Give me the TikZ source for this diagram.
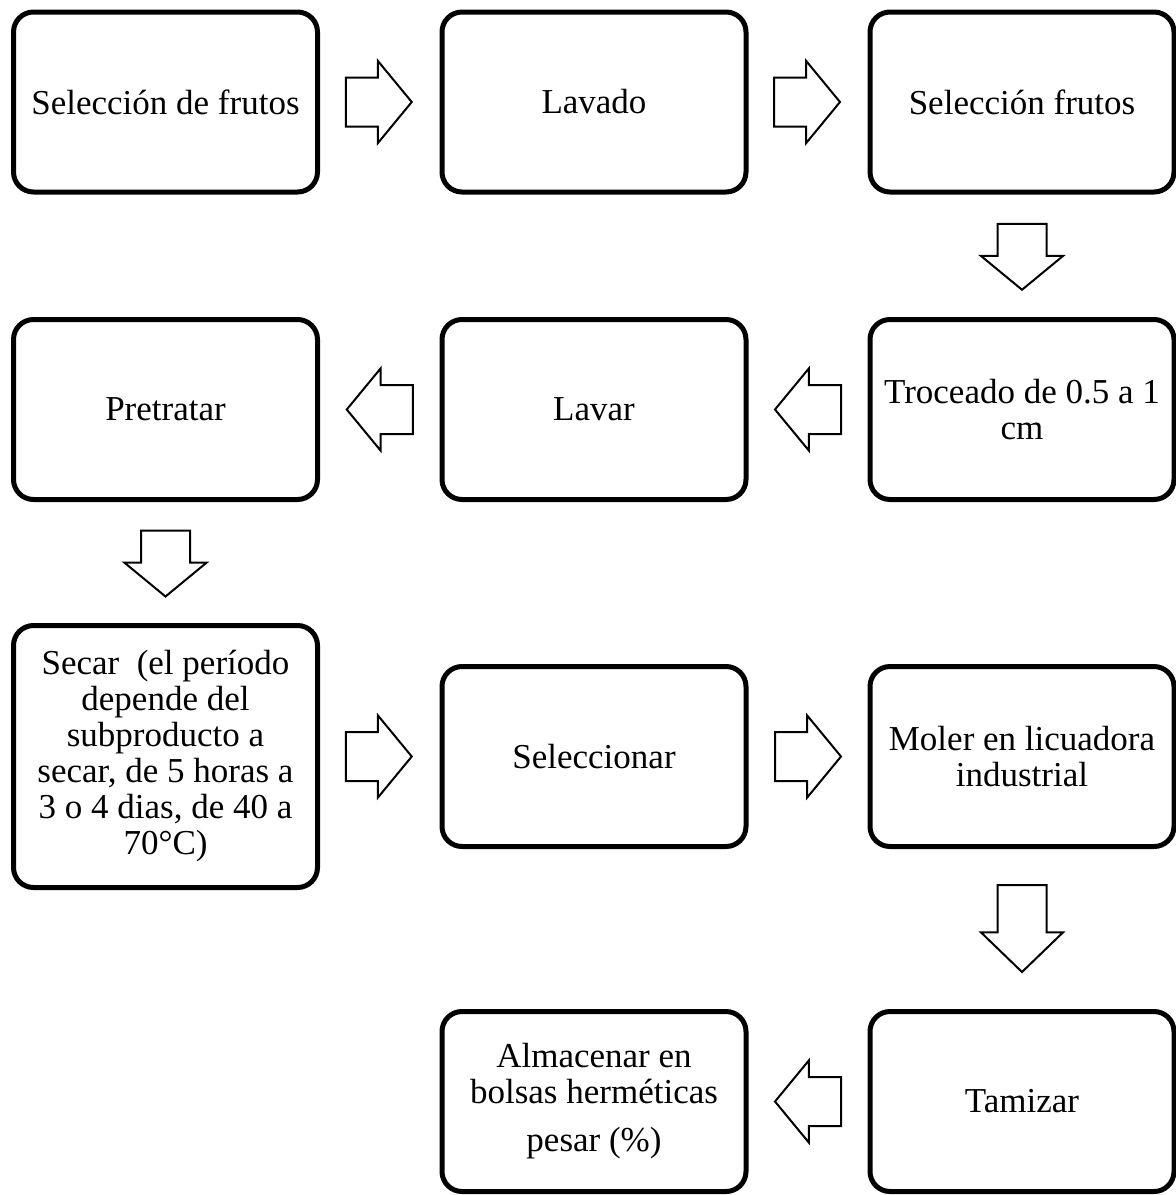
\documentclass[tikz,border=0pt]{standalone}
\usepackage{fontspec}
\setmainfont{Liberation Serif}
\usetikzlibrary{shapes.arrows, calc}
\tikzstyle{stepBox}=[draw=black, line width=2.5pt, rounded corners=10pt,
  minimum width=152pt, minimum height=90pt, align=center, inner sep=0pt,
  font=\fontsize{17.5}{18}\selectfont]
\tikzstyle{tallBox}=[stepBox, minimum height=131pt]
\tikzstyle{blockArrow}=[single arrow, draw=black, fill=white, line width=1pt,
  inner sep=0pt, text height=23.5pt, text depth=0pt, minimum height=33pt,
  minimum width=40pt, single arrow head extend=8.25pt, single arrow tip angle=101,
  anchor=tail]

\begin{document}
\begin{tikzpicture}[x=0.5pt, y=-0.5pt]
  \useasboundingbox (0,0) rectangle (1176,1195);

  % steps
  \node[stepBox] (selFrutos) at (165.5,102) {Selección de frutos};
  \node[stepBox] (lavado) at (594,102) {Lavado};
  \node[stepBox] (selFrutosB) at (1022,102) {Selección frutos};
  \node[stepBox] (troceado) at (1022,409.5) {Troceado de 0.5 a 1\\cm};
  \node[stepBox] (lavar) at (594,409.5) {Lavar};
  \node[stepBox] (pretratar) at (165.5,409.5) {Pretratar};
  \node[tallBox] (secar) at (165.5,756.5) {Secar\ \ (el período\\depende del\\subproducto a\\secar, de 5 horas a\\3 o 4 dias, de 40 a\\70°C)};
  \node[stepBox] (seleccionar) at (594,756.5) {Seleccionar};
  \node[stepBox] (moler) at (1022,756.5) {Moler en licuadora\\industrial};
  \node[stepBox] (tamizar) at (1022,1101.5) {Tamizar};
  \node[stepBox] (almacenar) at (594,1101.5) {Almacenar en\\bolsas herméticas\\[6pt]pesar (\%)};

  % arrows (tail half a length back from the gap's middle)
  \node[blockArrow] (arrA) at ($(selFrutos.east)!0.5!(lavado.west)!17.5pt!(selFrutos.east)$) {};
  \node[blockArrow] (arrB) at ($(lavado.east)!0.5!(selFrutosB.west)!17.5pt!(lavado.east)$) {};
  \node[blockArrow, rotate=270] (arrC) at ($(selFrutosB.south)!0.5!(troceado.north)!16.5pt!(selFrutosB.south)$) {};
  \node[blockArrow, rotate=180] (arrD) at ($(troceado.west)!0.5!(lavar.east)!17pt!(troceado.west)$) {};
  \node[blockArrow, rotate=180] (arrE) at ($(lavar.west)!0.5!(pretratar.east)!17pt!(lavar.west)$) {};
  \node[blockArrow, rotate=270] (arrF) at ($(pretratar.south)!0.5!(secar.north)!16.5pt!(pretratar.south)$) {};
  \node[blockArrow] (arrG) at ($(secar.east)!0.5!(seleccionar.west)!17.5pt!(secar.east)$) {};
  \node[blockArrow] (arrH) at ($(seleccionar.east)!0.5!(moler.west)!17pt!(seleccionar.east)$) {};
  \node[blockArrow, rotate=270, minimum height=43.5pt,
    single arrow tip angle=92] (arrI) at ($(moler.south)!0.5!(tamizar.north)!22.5pt!(moler.south)$) {};
  \node[blockArrow, rotate=180] (arrJ) at ($(tamizar.west)!0.5!(almacenar.east)!17pt!(tamizar.west)$) {};
\end{tikzpicture}
\end{document}
